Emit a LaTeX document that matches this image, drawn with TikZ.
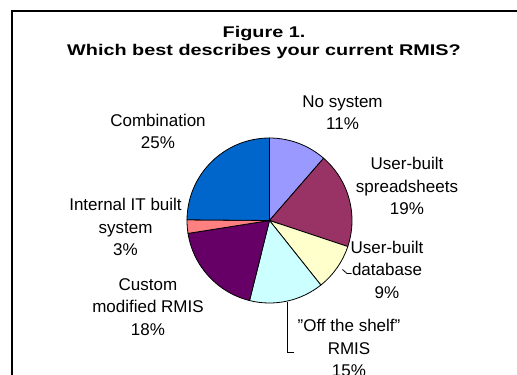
\documentclass[tikz,border=0pt]{standalone}
\usepackage{fontspec}
\setmainfont[Ligatures=NoCommon]{Liberation Sans}
\newfontfamily\titlefam[FakeStretch=1.28]{Liberation Sans}
\newcommand\labfont{\fontsize{17pt}{22.5pt}\selectfont}
\newcommand\ttlfont{\titlefam\bfseries\fontsize{15.5pt}{18pt}\selectfont}
\newcommand\ls{\rule[-5pt]{0pt}{17.5pt}}
\newcommand\sq{\char"22\relax}
\definecolor{cNo}{HTML}{9999FF}
\definecolor{cSpread}{HTML}{993366}
\definecolor{cDb}{HTML}{FFFFCC}
\definecolor{cShelf}{HTML}{CCFFFF}
\definecolor{cCustom}{HTML}{660066}
\definecolor{cInt}{HTML}{FF8080}
\definecolor{cComb}{HTML}{0066CC}
\begin{document}
\begin{tikzpicture}[x=1pt,y=1pt,
  lab/.style={font=\labfont, align=center, inner sep=0pt, text=black},
  ttl/.style={font=\ttlfont, anchor=base, inner sep=0pt},
  slicestyle/.style={draw=black, line width=0.8pt, line join=round},
  leader/.style={draw=black, line width=0.8pt}]
\useasboundingbox (0,0) rectangle (517,-375);
\fill[white] (0,0) rectangle (517,-375);
\begin{scope}
  \clip (0,0) rectangle (517,-375);
  \draw[line width=1.3pt] (12,-11) rectangle (560,-420);
\end{scope}
% title
\node[ttl] (t1) at (264,-37) {Figure 1.};
\node[ttl] (t2) at (264,-55.5) {Which best describes your current RMIS?};
% pie
\coordinate (c) at (269.5,-220.5);
\def\R{82.5pt}
\filldraw[slicestyle, fill=cNo]     (c) -- +(90:\R)    arc[start angle=90,    end angle=49,    radius=\R] -- cycle;
\filldraw[slicestyle, fill=cSpread] (c) -- +(49:\R)    arc[start angle=49,    end angle=-18.4, radius=\R] -- cycle;
\filldraw[slicestyle, fill=cDb]     (c) -- +(-18.4:\R) arc[start angle=-18.4, end angle=-51.5, radius=\R] -- cycle;
\filldraw[slicestyle, fill=cShelf]  (c) -- +(-51.5:\R) arc[start angle=-51.5, end angle=-104,  radius=\R] -- cycle;
\filldraw[slicestyle, fill=cCustom] (c) -- +(-104:\R)  arc[start angle=-104,  end angle=-171,  radius=\R] -- cycle;
\filldraw[slicestyle, fill=cInt]    (c) -- +(-171:\R)  arc[start angle=-171,  end angle=-180.5,radius=\R] -- cycle;
\filldraw[slicestyle, fill=cComb]   (c) -- +(-180.5:\R) arc[start angle=-180.5, end angle=-270, radius=\R] -- cycle;
% labels
\node[lab] (nosys) at (342.5,-114.5) {\ls No system\\\ls 11\%};
\node[lab] (comb)  at (158,-133.7) {\ls Combination\\\ls 25\%};
\node[lab] (spread) at (407,-188.3) {\ls User-built\\\ls spreadsheets\\\ls 19\%};
\node[lab] (db) at (387,-272) {\ls User-built\\\ls database\\\ls 9\%};
\node[lab] (shelf) at (349,-350.7) {\ls \sq Off the shelf\sq\\\ls RMIS\\\ls 15\%};
\node[lab] (custom) at (148,-309) {\ls Custom\\\ls modified RMIS\\\ls 18\%};
\node[lab] (intit) at (125.5,-229.3) {\ls Internal IT built\\\ls system\\\ls 3\%};
% leaders
\coordinate (db1) at (342.5,-269.5);
\coordinate (db2) at (347,-273.5);
\coordinate (db3) at (351.5,-273.5);
\draw[leader] (db1) -- (db2) -- (db3);
\coordinate (sh1) at (287.5,-302);
\coordinate (sh2) at (287.5,-352);
\coordinate (sh3) at (293.5,-352);
\draw[leader] (sh1) -- (sh2) -- (sh3);
\end{tikzpicture}
\end{document}
